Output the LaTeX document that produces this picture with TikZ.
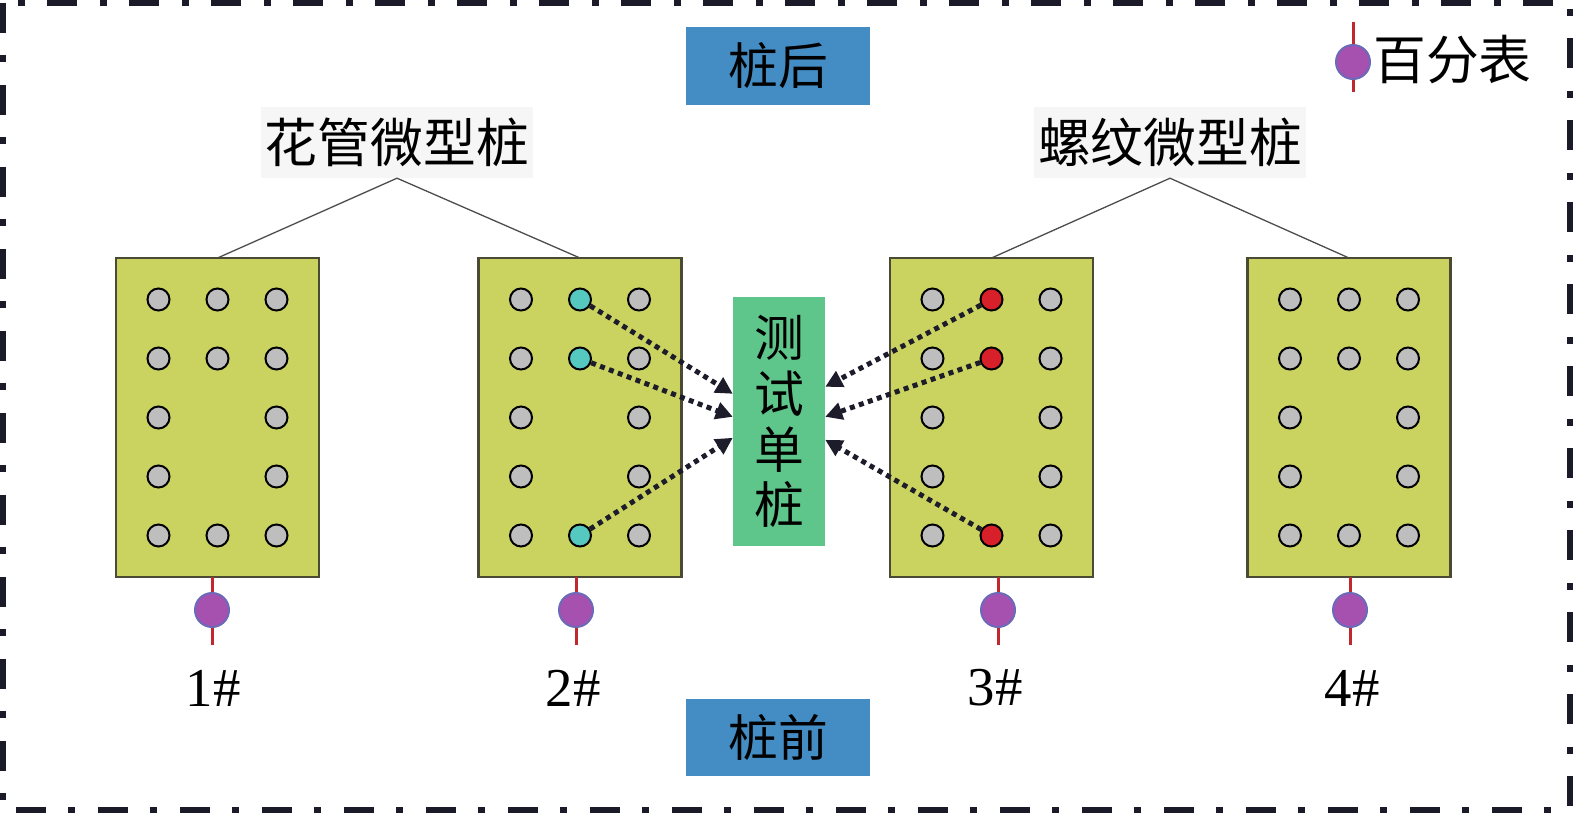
\documentclass[tikz,border=0pt]{standalone}
\usepackage{fontspec}
\setmainfont{Liberation Serif}
\newfontfamily\cjk{Noto Sans CJK SC}
\usetikzlibrary{arrows.meta,calc}
\definecolor{frameC}{HTML}{1A1A28}
\definecolor{boxC}{HTML}{CBD360}
\definecolor{boxEdge}{HTML}{4B4B35}
\definecolor{dotgray}{HTML}{BEBEBE}
\definecolor{dotcyan}{HTML}{55C8C0}
\definecolor{dotred}{HTML}{D8202A}
\definecolor{testC}{HTML}{5EC68A}
\definecolor{blueC}{HTML}{448DC4}
\definecolor{labelBg}{HTML}{F6F6F6}
\definecolor{gaugeC}{HTML}{A650B0}
\definecolor{gaugeEdge}{HTML}{6A6AB8}
\definecolor{stemC}{HTML}{C0282E}
\definecolor{arrC}{HTML}{1C1C2A}
\tikzset{
  frame/.style={draw=frameC, line width=6bp, dash pattern=on 30bp off 22bp on 7bp off 23bp},
  pilebox/.style={draw=boxEdge, fill=boxC, line width=2.5bp, minimum width=203bp, minimum height=319bp, inner sep=0pt, outer sep=0pt},
  holedot/.style={circle, draw=black, line width=2bp, minimum size=22bp, inner sep=0pt, outer sep=0pt},
  testbox/.style={fill=testC, minimum width=92bp, minimum height=249bp, inner sep=0pt, align=center, font=\cjk\fontsize{50}{56}\selectfont},
  sidebox/.style={fill=blueC, minimum width=184bp, minimum height=77bp, inner sep=0pt, font=\cjk\fontsize{50}{56}\selectfont},
  grouplabel/.style={fill=labelBg, minimum width=272bp, minimum height=71bp, inner sep=0pt, font=\cjk\fontsize{53}{60}\selectfont},
  lead/.style={draw=black!70, line width=1.3bp},
  arr/.style={draw=arrC, line width=5bp, dash pattern=on 5bp off 4.5bp, -{Triangle[length=17bp,width=17bp]}, shorten <=1bp},
  gauge/.style={circle, fill=gaugeC, draw=gaugeEdge, line width=2bp, minimum size=34bp, inner sep=0pt},
  stem/.style={draw=stemC, line width=3bp},
  numlabel/.style={font=\fontsize{55}{60}\selectfont, inner sep=0pt},
  legendtext/.style={font=\cjk\fontsize{53}{60}\selectfont, inner sep=0pt, anchor=west}
}
\begin{document}
\begin{tikzpicture}[x=1bp,y=-1bp]
\useasboundingbox (0,0) rectangle (1575,816);
\draw[frame] (3,3) rectangle (1570,810);

% side labels
\node[sidebox] (back) at (778,66) {桩后};
\node[sidebox] (front) at (778,737) {桩前};

% group labels
\node[grouplabel] (HG) at (397,142.5) {花管微型桩};
\node[grouplabel] (LW) at (1170,142.5) {螺纹微型桩};

% pile boxes
\node[pilebox] (B1) at (217.5,417.5) {};
\node[pilebox] (B2) at (580,417.5) {};
\node[pilebox] (B3) at (991.5,417.5) {};
\node[pilebox] (B4) at (1349,417.5) {};

\draw[lead] (HG.south) -- (B1.north);
\draw[lead] (HG.south) -- (B2.north);
\draw[lead] (LW.south) -- (B3.north);
\draw[lead] (LW.south) -- (B4.north);

% holes
\foreach \b/\bx in {1/217.5,2/580,3/991.5,4/1349}{
  \foreach \c/\dx in {1/-59,2/0,3/59}{
    \foreach \r/\dy in {1/-118,2/-59,3/0,4/59,5/118}{
      \def\keep{1}\def\col{dotgray}
      \ifnum\c=2 \ifnum\r=3 \def\keep{0}\fi \ifnum\r=4 \def\keep{0}\fi
        \ifnum\b=2 \def\col{dotcyan}\fi \ifnum\b=3 \def\col{dotred}\fi\fi
      \ifnum\keep=1
        \node[holedot, fill=\col] (d\b\c\r) at (\bx+\dx,417.5+\dy) {};
      \fi
    }}}

% test pile
\node[testbox] (T) at (779,421.5) {测\\试\\单\\桩};
\coordinate (L1) at ($(T.north west)+(0,97)$);
\coordinate (L2) at ($(T.north west)+(0,120)$);
\coordinate (L3) at ($(T.north west)+(0,141)$);
\coordinate (R1) at ($(T.north east)+(0,90)$);
\coordinate (R2) at ($(T.north east)+(0,120)$);
\coordinate (R3) at ($(T.north east)+(0,143)$);
\draw[arr] (d221) -- (L1);
\draw[arr] (d222) -- (L2);
\draw[arr] (d225) -- (L3);
\draw[arr] (d321) -- (R1);
\draw[arr] (d322) -- (R2);
\draw[arr] (d325) -- (R3);

% gauges
\foreach \i/\gx in {1/212,2/576,3/998,4/1350}{
  \coordinate (Ga\i) at (\gx,577);
  \coordinate (Gb\i) at (\gx,645);
  \draw[stem] (Ga\i) -- (Gb\i);
  \node[gauge] (G\i) at (\gx,610) {};
}
\node[numlabel] (N1) at (213,688) {1\#};
\node[numlabel] (N2) at (573,688) {2\#};
\node[numlabel] (N3) at (995,688) {3\#};
\node[numlabel] (N4) at (1352,688) {4\#};

% legend
\coordinate (La) at (1353,22);
\coordinate (Lb) at (1353,92);
\draw[stem] (La) -- (Lb);
\node[gauge] (LG) at (1353,62) {};
\node[legendtext] (LT) at (1373,60) {百分表};
\end{tikzpicture}
\end{document}
